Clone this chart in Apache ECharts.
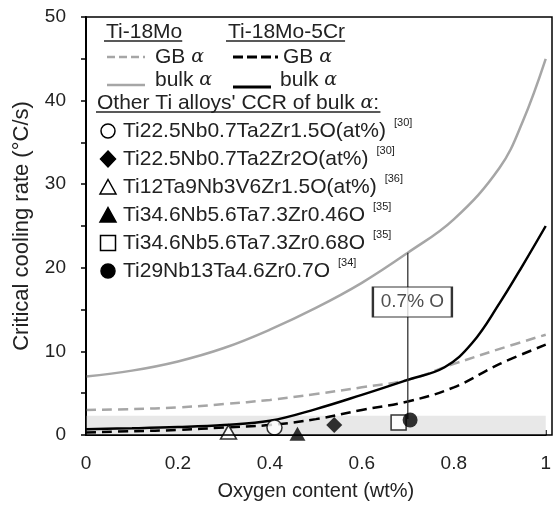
<!DOCTYPE html>
<html>
<head>
<meta charset="utf-8">
<script src="https://cdn.jsdelivr.net/npm/echarts@6/dist/echarts.min.js"></script>
<style>
html, body { margin: 0; padding: 0; background: #fff; }
#chart { width: 554px; height: 507px; }
</style>
</head>
<body>
<div id="chart"></div>
<script>
var FONT = 'Liberation Sans, Arial, sans-serif';
var INK = '#222';
var GREY = '#a6a6a6';

// Ti-18Mo, grain boundary alpha (grey dashed)
var moGbX = [0, 0.1, 0.2, 0.3, 0.4, 0.5, 0.6, 0.7, 0.8, 0.9, 1.0];
var moGbY = [3.0, 3.1, 3.3, 3.7, 4.2, 4.9, 5.7, 6.6, 8.5, 10.3, 12.0];
// Ti-18Mo, bulk alpha (grey solid)
var moBulkX = [0, 0.1, 0.2, 0.3, 0.4, 0.5, 0.6, 0.7, 0.8, 0.9, 0.95, 1.0];
var moBulkY = [7.0, 7.7, 8.8, 10.4, 12.6, 15.2, 18.2, 21.8, 25.8, 32.0, 37.5, 45.0];
// Ti-18Mo-5Cr, grain boundary alpha (black dashed)
var crGbX = [0, 0.1, 0.2, 0.3, 0.4, 0.5, 0.6, 0.7, 0.8, 0.9, 1.0];
var crGbY = [0.3, 0.45, 0.6, 0.9, 1.2, 1.9, 3.0, 4.0, 5.7, 8.5, 10.8];
// Ti-18Mo-5Cr, bulk alpha (black solid)
var crBulkX = [0, 0.1, 0.2, 0.3, 0.4, 0.5, 0.6, 0.7, 0.78, 0.84, 0.9, 0.95, 1.0];
var crBulkY = [0.7, 0.8, 0.95, 1.2, 1.7, 3.1, 4.8, 6.6, 8.1, 11.0, 15.8, 20.3, 25.0];

// other Ti alloys, CCR of bulk alpha
var alloyNames = ['Ti22.5Nb0.7Ta2Zr1.5O(at%)', 'Ti22.5Nb0.7Ta2Zr2O(at%)', 'Ti12Ta9Nb3V6Zr1.5O(at%)',
                  'Ti34.6Nb5.6Ta7.3Zr0.46O', 'Ti34.6Nb5.6Ta7.3Zr0.68O', 'Ti29Nb13Ta4.6Zr0.7O'];
var alloyRefs = ['[30]', '[30]', '[36]', '[35]', '[35]', '[34]'];
var alloyX = [0.41, 0.54, 0.31, 0.46, 0.68, 0.705];
var alloyY = [0.9, 1.2, 0.35, 0.15, 1.5, 1.8];
var alloySymbol = ['circle', 'diamond', 'triangle', 'triangle', 'rect', 'circle'];
var alloyFilled = [false, true, false, true, false, true];

// shaded band and 0.7 % O marker
var bandTop = 2.3;
var markO = 0.7;
var markLine = [1.9, 21.8];
var markLabel = '0.7% O';
var markLabelX = 0.71;
var markLabelY = 15.9;

function pairs(xs, ys) {
    return xs.map(function(x, i) { return [x, ys[i]]; });
}

var chart = echarts.init(document.getElementById('chart'));

var GRID = { left: 86, right: 2, top: 17, bottom: 72 };

var series = [
    {
        type: 'line', data: [], z: 1, silent: true,
        markArea: {
            silent: true,
            itemStyle: { color: '#e8e8e8' },
            data: [[{ xAxis: 0, yAxis: 0 }, { xAxis: 1, yAxis: bandTop }]]
        }
    },
    { type: 'line', data: pairs(moGbX, moGbY), smooth: 0.4, showSymbol: false, z: 3,
      lineStyle: { color: GREY, width: 2.5, type: [10, 6] } },
    { type: 'line', data: pairs(moBulkX, moBulkY), smooth: 0.4, showSymbol: false, z: 3,
      lineStyle: { color: GREY, width: 2.5 } },
    { type: 'line', data: pairs(crGbX, crGbY), smooth: 0.4, showSymbol: false, z: 4,
      lineStyle: { color: '#000', width: 2.5, type: [10, 6] } },
    { type: 'line', data: pairs(crBulkX, crBulkY), smooth: 0.4, showSymbol: false, z: 4,
      lineStyle: { color: '#000', width: 2.5 } },
    { type: 'line', data: [[markO, markLine[0]], [markO, markLine[1]]], showSymbol: false, z: 5,
      lineStyle: { color: '#333', width: 1.3 } },
    { type: 'scatter', data: [[markLabelX, markLabelY]], symbol: 'rect', symbolSize: [79, 30], z: 6,
      itemStyle: { color: '#fff', borderColor: '#000', borderWidth: 1.5 },
      label: { show: true, position: 'inside', formatter: markLabel, color: INK,
               fontFamily: FONT, fontSize: 19 } }
];

alloyNames.forEach(function(name, i) {
    series.push({
        type: 'scatter', name: name, data: [[alloyX[i], alloyY[i]]], z: 7 + i,
        symbol: alloySymbol[i],
        symbolSize: alloySymbol[i] === 'triangle' ? [16, 14] : (alloySymbol[i] === 'diamond' ? 16 : 15),
        itemStyle: alloyFilled[i] ? { color: '#000' } : { color: '#fff', borderColor: '#000', borderWidth: 1.5 }
    });
});

// hand-made legend panel
var measure = document.createElement('canvas').getContext('2d');
function textWidth(str, size) {
    measure.font = size + 'px ' + FONT;
    return measure.measureText(str).width;
}

var LF = 21;
var g = [];
// plot frame
g.push({ type: 'rect', z: 50, silent: true,
         shape: { x: GRID.left, y: GRID.top, width: 554 - GRID.left - GRID.right, height: 507 - GRID.top - GRID.bottom },
         style: { fill: null, stroke: '#000', lineWidth: 1.5 } });

function txt(x, y, s, size, rich) {
    var el = { type: 'text', x: x, y: y, z: 100,
               style: { text: s, fill: INK, font: size + 'px ' + FONT,
                        textVerticalAlign: 'middle', verticalAlign: 'middle' } };
    if (rich) el.style.rich = rich;
    g.push(el);
}
function seg(x1, y1, x2, y2, color, w, dash) {
    g.push({ type: 'line', z: 100, shape: { x1: x1, y1: y1, x2: x2, y2: y2 },
             style: { stroke: color, lineWidth: w, lineDash: dash || null } });
}
var alpha = { a: { fontStyle: 'italic', fontFamily: 'DejaVu Serif', fontSize: LF - 2, fill: INK } };

txt(106, 32, 'Ti-18Mo', LF);
seg(104, 41, 106 + textWidth('Ti-18Mo', LF), 41, INK, 1.5);
txt(228, 32, 'Ti-18Mo-5Cr', LF);
seg(226, 41, 228 + textWidth('Ti-18Mo-5Cr', LF), 41, INK, 1.5);

seg(107, 57, 145, 57, GREY, 2.5, [8, 4]);
txt(155, 57, 'GB {a|α}', LF, alpha);
seg(233, 57, 278, 57, '#000', 3, [10, 4]);
txt(283, 57, 'GB {a|α}', LF, alpha);
seg(107, 85, 145, 85, GREY, 2.5);
txt(155, 80, 'bulk {a|α}', LF, alpha);
seg(233, 87, 271, 87, '#000', 3);
txt(280, 80, 'bulk {a|α}', LF, alpha);

txt(97, 103, "Other Ti alloys' CCR of bulk {a|α}:", LF, alpha);
seg(96, 112, 99 + textWidth("Other Ti alloys' CCR of bulk α:", LF), 112, INK, 1.5);

alloyNames.forEach(function(name, i) {
    var cy = 131 + i * 28;
    var cx = 108;
    var fill = alloyFilled[i] ? '#000' : '#fff';
    var st = { fill: fill, stroke: '#000', lineWidth: 1.5 };
    if (alloySymbol[i] === 'circle') {
        g.push({ type: 'circle', z: 100, shape: { cx: cx, cy: cy, r: 7 }, style: st });
    } else if (alloySymbol[i] === 'diamond') {
        g.push({ type: 'polygon', z: 100, shape: { points: [[cx, cy - 8], [cx + 7.5, cy], [cx, cy + 8], [cx - 7.5, cy]] }, style: st });
    } else if (alloySymbol[i] === 'triangle') {
        g.push({ type: 'polygon', z: 100, shape: { points: [[cx, cy - 7.5], [cx + 8, cy + 7], [cx - 8, cy + 7]] }, style: st });
    } else {
        g.push({ type: 'rect', z: 100, shape: { x: cx - 7.5, y: cy - 7.5, width: 15, height: 15 }, style: st });
    }
    txt(123, cy, name, LF);
    txt(131 + textWidth(name, LF), cy - 8, alloyRefs[i], 11);
});

chart.setOption({
    animation: false,
    backgroundColor: '#fff',
    grid: GRID,
    xAxis: {
        type: 'value', min: 0, max: 1, interval: 0.1,
        name: 'Oxygen content (wt%)', nameLocation: 'middle', nameGap: 46,
        nameTextStyle: { color: INK, fontFamily: FONT, fontSize: 20 },
        axisLine: { onZero: false, lineStyle: { color: '#000', width: 2 } },
        axisTick: { inside: true, length: 5, lineStyle: { color: '#000', width: 1.5 } },
        splitLine: { show: false },
        axisLabel: {
            color: INK, fontFamily: FONT, fontSize: 19, margin: 19,
            formatter: function(v) {
                var t = Math.round(v * 10);
                if (t % 2) return '';
                return t === 0 ? '0' : (t === 10 ? '1' : (t / 10).toFixed(1));
            }
        }
    },
    yAxis: {
        type: 'value', min: 0, max: 50, interval: 5,
        name: 'Critical cooling rate (°C/s)', nameLocation: 'middle', nameGap: 53,
        nameTextStyle: { color: INK, fontFamily: FONT, fontSize: 22 },
        axisLine: { show: true, onZero: false, lineStyle: { color: '#000', width: 2 } },
        axisTick: { show: true, length: 5, lineStyle: { color: '#000', width: 1.5 } },
        splitLine: { show: false },
        axisLabel: {
            color: INK, fontFamily: FONT, fontSize: 19, margin: 20,
            formatter: function(v) { return v % 10 ? '' : String(v); }
        }
    },
    series: series,
    graphic: g
});
</script>
</body>
</html>
